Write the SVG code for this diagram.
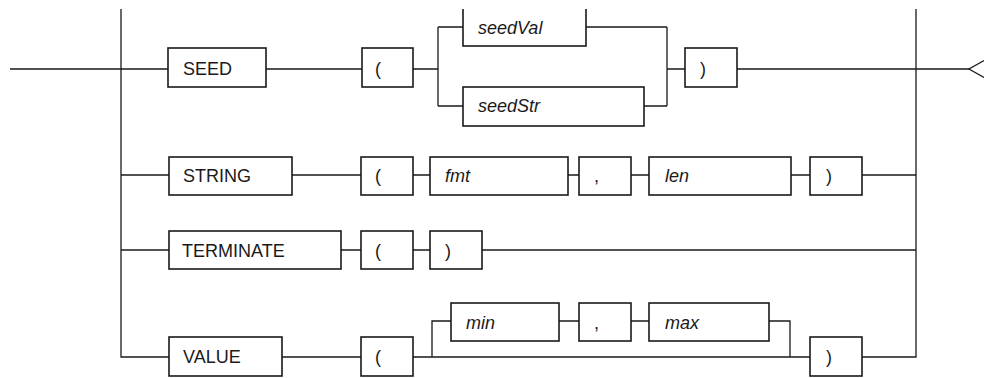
<svg xmlns="http://www.w3.org/2000/svg" width="984" height="378" viewBox="0 0 984 378">
<style>
.b{fill:#fff;stroke:#1a1a1a;stroke-width:1.6}
.t{font-family:"Liberation Sans",Arial,sans-serif;font-size:18px;fill:#1a1a1a}
.i{font-style:italic}
.c{fill:none;stroke:#1a1a1a;stroke-width:1.3}
</style>
<defs><clipPath id="clip"><rect x="0" y="9" width="984" height="369"/></clipPath></defs>
<rect width="984" height="378" fill="#fff"/>
<g clip-path="url(#clip)">
<g id="connectors" class="c">
<path d="M10 69H168M266 69H362M413 69H438M438 27V106M438 27H463M438 106H463M586 27H667M644 106H667M667 27V106M667 69H685M737 69H969"/>
<path d="M984 60.5L969 69L984 77.5"/>
<path d="M121 9V357H169M121 175H169M292 175H361M413 175H430M568 175H579M631 175H649M791 175H810M862 175H916"/>
<path d="M121 250H169M341 250H361M413 250H430M482 250H916"/>
<path d="M282 357H361M413 357H810M432 357V321H451M559 321H579M631 321H649M769 321H790V357M862 357H916V9"/>
</g>
<g id="seed"><rect class="b" x="168" y="48" width="98" height="39"/><text class="t" x="183" y="75">SEED</text></g>
<g id="seed-lp"><rect class="b" x="362" y="48" width="51" height="39"/><text class="t" x="375" y="75">(</text></g>
<g id="seedVal"><rect class="b" x="463" y="7" width="123" height="39"/><text class="t i" x="478" y="34">seedVal</text></g>
<g id="seedStr"><rect class="b" x="463" y="87" width="181" height="39"/><text class="t i" x="478" y="112">seedStr</text></g>
<g id="seed-rp"><rect class="b" x="685" y="48" width="52" height="39"/><text class="t" x="700" y="75">)</text></g>
<g id="string"><rect class="b" x="169" y="157" width="123" height="38"/><text class="t" x="183" y="182">STRING</text></g>
<g id="string-lp"><rect class="b" x="361" y="157" width="52" height="38"/><text class="t" x="375" y="182">(</text></g>
<g id="fmt"><rect class="b" x="430" y="157" width="138" height="38"/><text class="t i" x="445" y="182">fmt</text></g>
<g id="string-comma"><rect class="b" x="579" y="157" width="52" height="38"/><text class="t" x="594" y="182">,</text></g>
<g id="len"><rect class="b" x="649" y="157" width="142" height="38"/><text class="t i" x="665" y="182">len</text></g>
<g id="string-rp"><rect class="b" x="810" y="157" width="52" height="38"/><text class="t" x="826" y="182">)</text></g>
<g id="terminate"><rect class="b" x="169" y="231" width="172" height="38"/><text class="t" x="182" y="257">TERMINATE</text></g>
<g id="terminate-lp"><rect class="b" x="361" y="231" width="52" height="38"/><text class="t" x="375" y="257">(</text></g>
<g id="terminate-rp"><rect class="b" x="430" y="231" width="52" height="38"/><text class="t" x="445" y="257">)</text></g>
<g id="value"><rect class="b" x="169" y="337" width="113" height="39"/><text class="t" x="183" y="363">VALUE</text></g>
<g id="value-lp"><rect class="b" x="361" y="337" width="52" height="39"/><text class="t" x="375" y="363">(</text></g>
<g id="min"><rect class="b" x="451" y="303" width="108" height="38"/><text class="t i" x="466" y="329">min</text></g>
<g id="value-comma"><rect class="b" x="579" y="303" width="52" height="38"/><text class="t" x="594" y="329">,</text></g>
<g id="max"><rect class="b" x="649" y="303" width="120" height="38"/><text class="t i" x="665" y="329">max</text></g>
<g id="value-rp"><rect class="b" x="810" y="337" width="52" height="39"/><text class="t" x="826" y="363">)</text></g>
</g>
</svg>
